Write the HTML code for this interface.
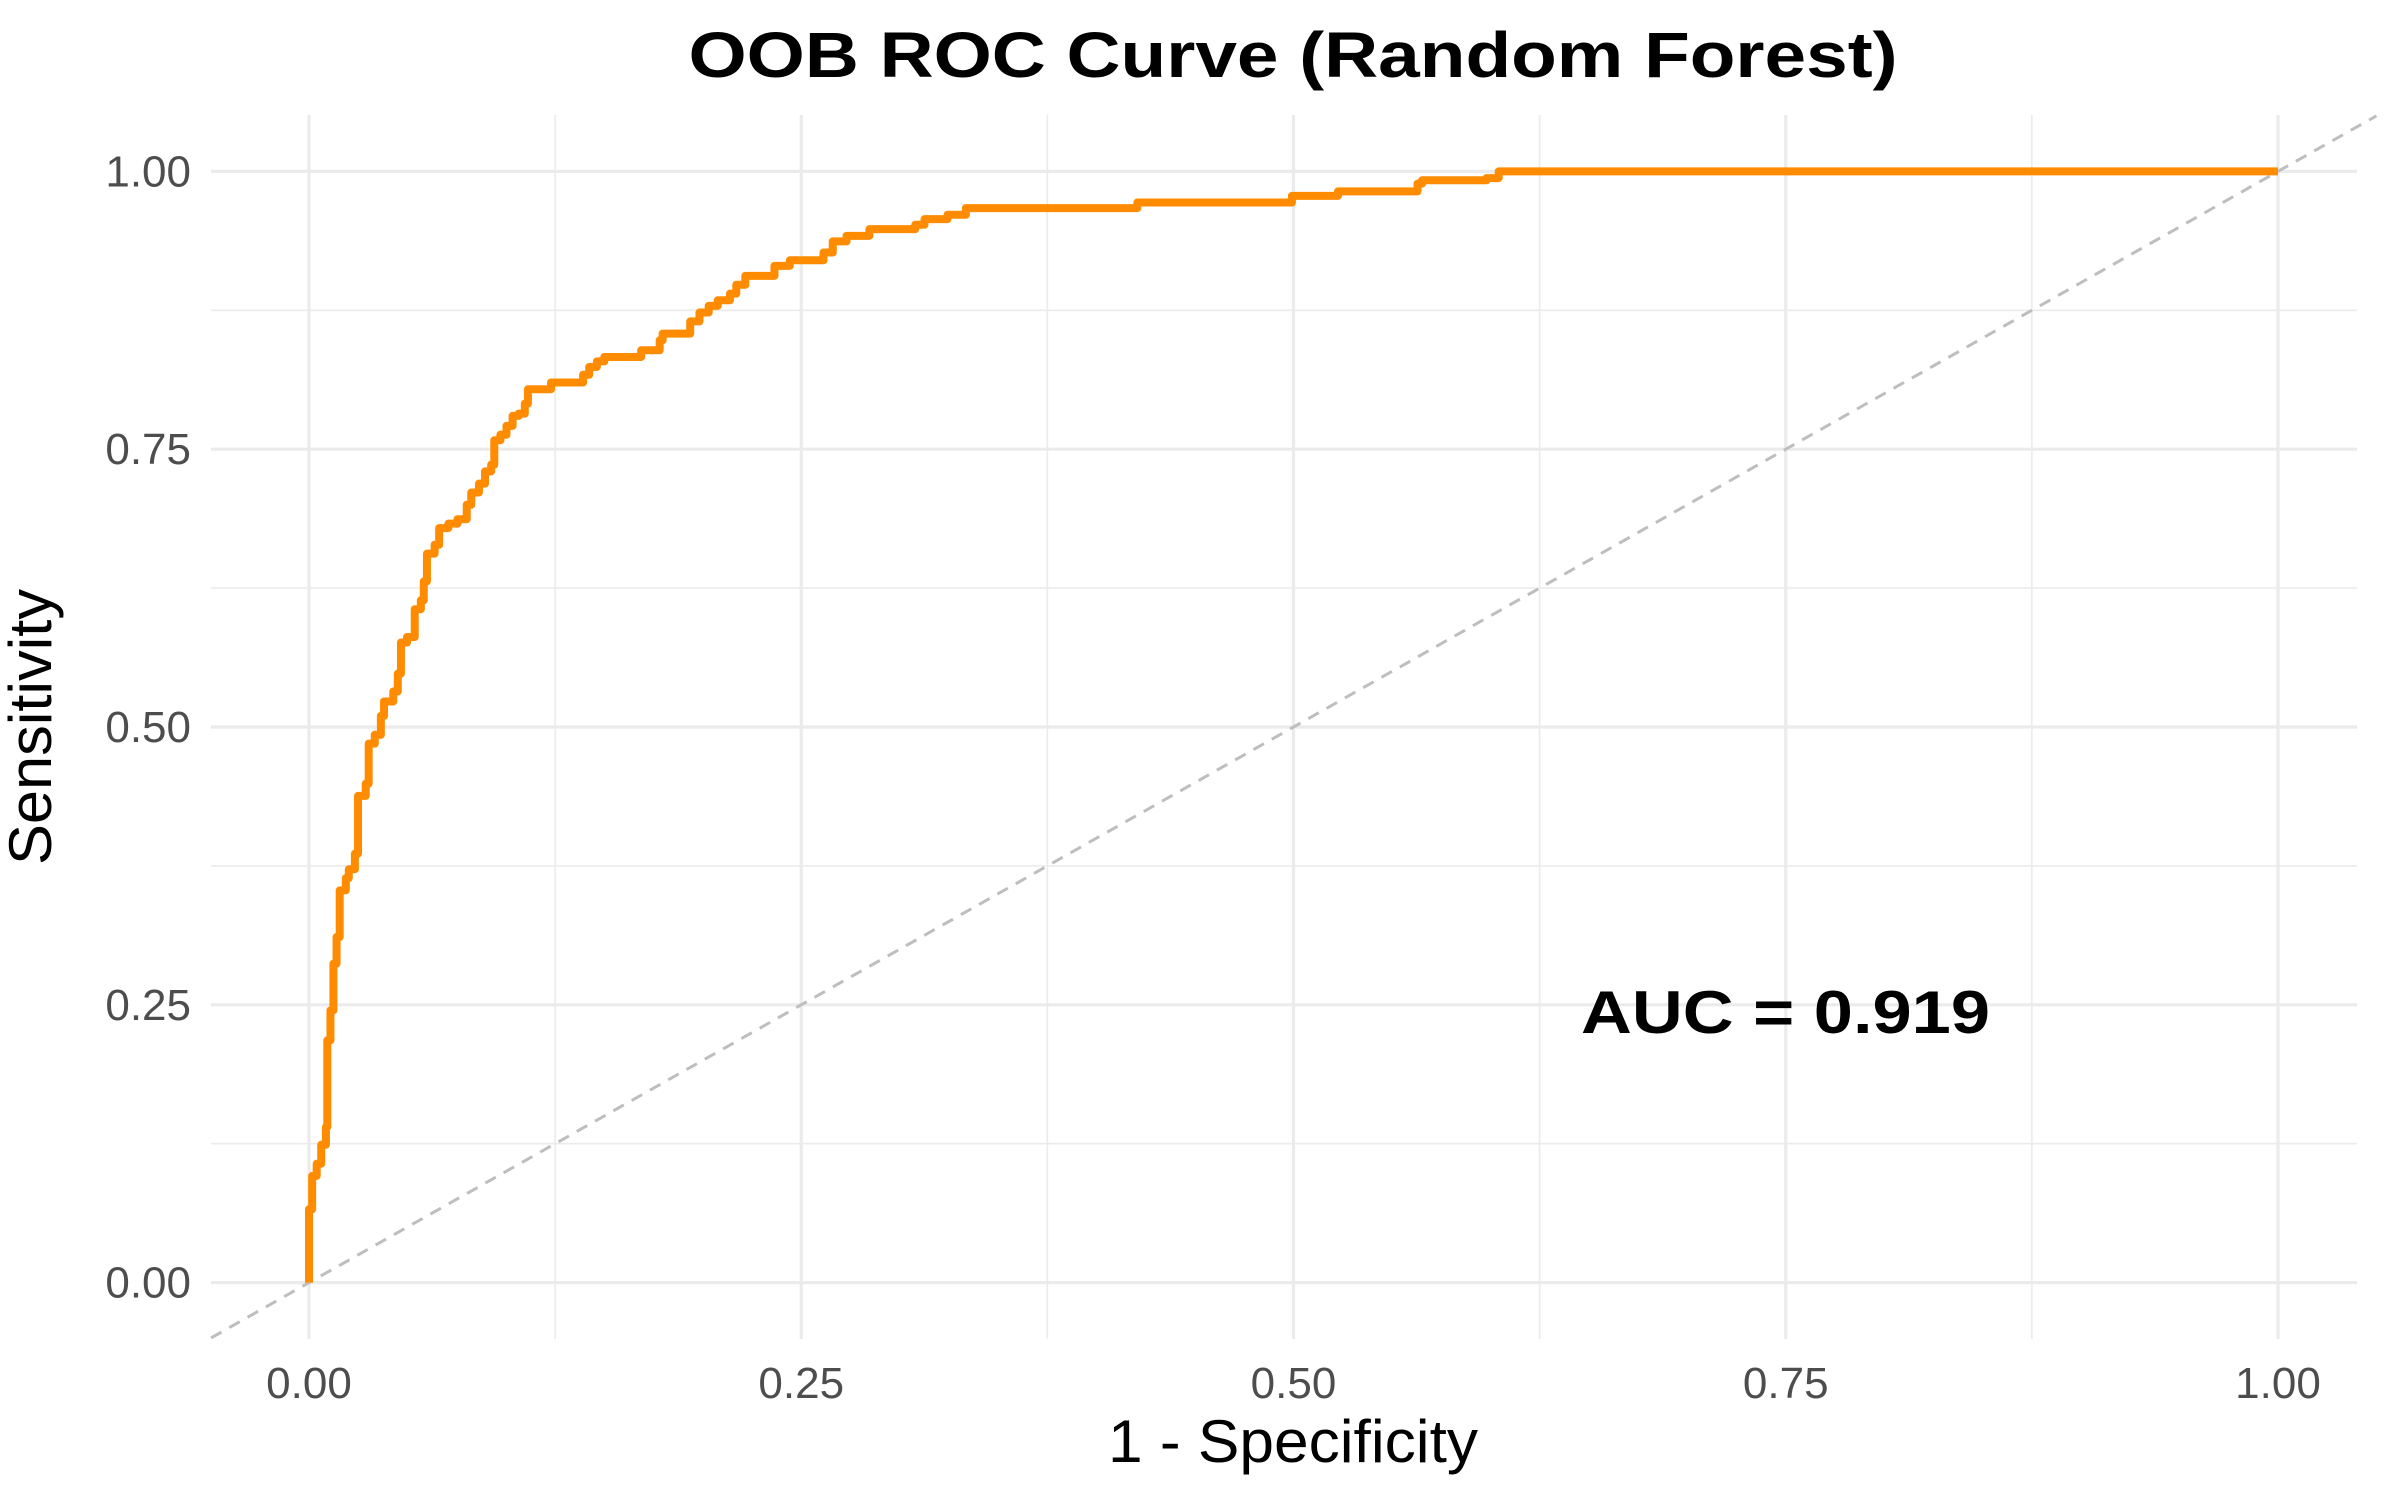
<!DOCTYPE html>
<html><head><meta charset="utf-8"><style>
html,body{margin:0;padding:0;background:#fff;}
svg{display:block;font-family:"Liberation Sans",sans-serif;}
</style></head><body>
<svg id="chart" width="2400" height="1500" viewBox="0 0 2400 1500" xmlns="http://www.w3.org/2000/svg">
<rect width="2400" height="1500" fill="#fff"/>
<g id="grid"></g>
<g id="ticks"></g>
<line id="diag" stroke="#bebebe" stroke-width="3" stroke-dasharray="12,9"/>
<path id="roc" fill="none" stroke="#ff8c00" stroke-width="8" stroke-linejoin="round"/>
<text x="1293" y="77" text-anchor="middle" font-size="64" font-weight="bold" textLength="1209" lengthAdjust="spacingAndGlyphs">OOB ROC Curve (Random Forest)</text>
<text x="1293" y="1462" text-anchor="middle" font-size="60" fill="#000" textLength="370" lengthAdjust="spacingAndGlyphs">1 - Specificity</text>
<text transform="translate(51,727) rotate(-90)" text-anchor="middle" font-size="60" fill="#000" textLength="276" lengthAdjust="spacingAndGlyphs">Sensitivity</text>
<text x="1581" y="1033" font-size="60" font-weight="bold" textLength="409" lengthAdjust="spacingAndGlyphs">AUC = 0.919</text>
</svg>
<script>
const fprSteps=[0,0.0016,0.0039,0.0062,0.0086,0.0093,0.0109,0.0124,0.014,0.0156,0.0187,0.0202,0.0233,0.0249,0.0288,0.0303,0.0334,0.0365,0.0381,0.0428,0.0451,0.0467,0.0498,0.0537,0.0568,0.0583,0.0599,0.0638,0.0661,0.0708,0.0754,0.0801,0.0824,0.0863,0.0894,0.0925,0.0941,0.0972,0.1003,0.1034,0.1065,0.1096,0.1112,0.1229,0.1392,0.1423,0.1462,0.15,0.1687,0.1781,0.1796,0.1936,0.1983,0.2030,0.2076,0.2138,0.2170,0.2216,0.2364,0.2442,0.2613,0.2660,0.2730,0.2846,0.3079,0.3126,0.3243,0.3336,0.4207,0.4992,0.5226,0.5630,0.5653,0.5980,0.6042,1];
const tprSteps=[0.066,0.096,0.107,0.124,0.140,0.218,0.245,0.287,0.311,0.353,0.364,0.372,0.386,0.438,0.449,0.485,0.493,0.510,0.523,0.532,0.548,0.576,0.581,0.606,0.614,0.631,0.656,0.664,0.679,0.683,0.687,0.700,0.711,0.719,0.730,0.736,0.758,0.763,0.771,0.780,0.782,0.791,0.804,0.810,0.817,0.824,0.829,0.833,0.839,0.848,0.854,0.865,0.873,0.879,0.884,0.890,0.898,0.906,0.915,0.920,0.927,0.937,0.942,0.948,0.952,0.957,0.961,0.967,0.972,0.978,0.982,0.989,0.992,0.994,1.0,1.0];
const majorTicks=[0,0.25,0.5,0.75,1];
const tickLabels=["0.00","0.25","0.50","0.75","1.00"];
const minorTicks=[-0.125,0.125,0.375,0.625,0.875,1.125];
const NS="http://www.w3.org/2000/svg";
const X0=309,X1=2278,Y0=1282.6,Y1=171.4,PL=211,PR=2357,PT=115,PB=1339;
const sx=v=>X0+v*(X1-X0), sy=v=>Y0-v*(Y0-Y1);
const grid=document.getElementById('grid'), ticks=document.getElementById('ticks');
function ln(x1,y1,x2,y2,w,name){const l=document.createElementNS(NS,'line');l.setAttribute('x1',x1);l.setAttribute('y1',y1);l.setAttribute('x2',x2);l.setAttribute('y2',y2);l.setAttribute('stroke','#ebebeb');l.setAttribute('stroke-width',w);


grid.appendChild(l);}
minorTicks.forEach(v=>{const x=sx(v),y=sy(v);if(x>PL&&x<PR)ln(x,PT,x,PB,1.6,'minor-gridline-x');if(y>PT&&y<PB)ln(PL,y,PR,y,1.6,'minor-gridline-y');});
majorTicks.forEach((v,i)=>{ln(sx(v),PT,sx(v),PB,3.2,'major-gridline-x');ln(PL,sy(v),PR,sy(v),3.2,'major-gridline-y');
const tx=document.createElementNS(NS,'text');tx.setAttribute('x',sx(v));tx.setAttribute('y',1398);tx.setAttribute('text-anchor','middle');tx.setAttribute('font-size','44');tx.setAttribute('fill','#4d4d4d');tx.textContent=tickLabels[i];


ticks.appendChild(tx);
const ty=document.createElementNS(NS,'text');ty.setAttribute('x',191);ty.setAttribute('y',sy(v)+15);ty.setAttribute('text-anchor','end');ty.setAttribute('font-size','44');ty.setAttribute('fill','#4d4d4d');ty.textContent=tickLabels[i];


ticks.appendChild(ty);});
const lo=(PL-X0)/(X1-X0);
const dg=document.getElementById('diag');
dg.setAttribute('x1',sx(lo));dg.setAttribute('y1',sy(lo));dg.setAttribute('x2',sx(1.05));dg.setAttribute('y2',sy(1.05));
let d='M'+sx(0)+','+sy(0);let py=0;
for(let i=0;i<fprSteps.length;i++){d+=' L'+sx(fprSteps[i])+','+sy(py)+' L'+sx(fprSteps[i])+','+sy(tprSteps[i]);py=tprSteps[i];}
document.getElementById('roc').setAttribute('d',d);
</script>
</body></html>
